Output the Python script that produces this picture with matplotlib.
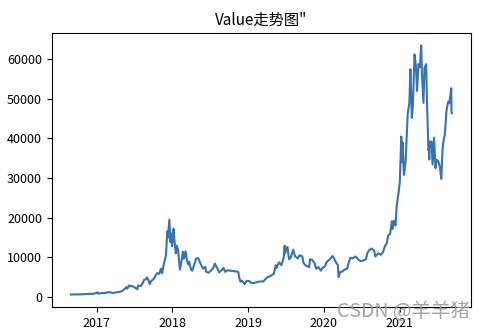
import matplotlib
matplotlib.use("Agg")
import matplotlib.pyplot as plt
import matplotlib.dates as mdates
import pandas as pd

plt.rcParams['font.family'] = ['Noto Sans CJK SC', 'DejaVu Sans']
plt.rcParams['axes.unicode_minus'] = False

dates = [
 "2016-08-29","2016-09-12","2016-09-26","2016-10-10","2016-10-24","2016-11-07","2016-11-21","2016-12-05",
 "2016-12-19","2016-12-30","2017-01-04","2017-01-11","2017-01-18","2017-01-31","2017-02-14","2017-02-28",
 "2017-03-10","2017-03-18","2017-03-31","2017-04-15","2017-04-30","2017-05-10","2017-05-24","2017-05-28",
 "2017-06-06","2017-06-12","2017-06-20","2017-07-01","2017-07-16","2017-07-20","2017-08-01","2017-08-10",
 "2017-08-17","2017-08-24","2017-09-01","2017-09-14","2017-09-20","2017-10-01","2017-10-12","2017-10-20",
 "2017-10-28","2017-11-07","2017-11-12","2017-11-20","2017-11-28","2017-12-01","2017-12-07","2017-12-10",
 "2017-12-17","2017-12-22","2017-12-26","2017-12-30","2018-01-06","2018-01-10","2018-01-17","2018-01-21",
 "2018-01-28","2018-02-02","2018-02-06","2018-02-12","2018-02-20","2018-02-25","2018-03-05","2018-03-12",
 "2018-03-18","2018-03-22","2018-03-31","2018-04-06","2018-04-15","2018-04-24","2018-05-05","2018-05-15",
 "2018-05-28","2018-06-08","2018-06-13","2018-06-24","2018-07-05","2018-07-18","2018-07-24","2018-08-03",
 "2018-08-14","2018-08-26","2018-09-04","2018-09-12","2018-09-22","2018-10-05","2018-10-20","2018-11-05",
 "2018-11-14","2018-11-20","2018-11-25","2018-12-02","2018-12-15","2018-12-24","2019-01-06","2019-01-12",
 "2019-01-28","2019-02-08","2019-02-24","2019-03-15","2019-04-02","2019-04-20","2019-05-05","2019-05-14",
 "2019-05-17","2019-05-30","2019-06-10","2019-06-21","2019-06-26","2019-06-28","2019-07-03","2019-07-09",
 "2019-07-17","2019-07-24","2019-08-06","2019-08-14","2019-08-28","2019-09-06","2019-09-19","2019-09-25",
 "2019-10-06","2019-10-22","2019-10-26","2019-11-06","2019-11-17","2019-11-25","2019-12-06","2019-12-17",
 "2019-12-25","2020-01-06","2020-01-14","2020-01-28","2020-02-12","2020-02-20","2020-03-01","2020-03-08",
 "2020-03-12","2020-03-19","2020-03-30","2020-04-10","2020-04-22","2020-04-30","2020-05-08","2020-05-18",
 "2020-06-01","2020-06-15","2020-06-27","2020-07-10","2020-07-22","2020-07-28","2020-08-05","2020-08-17",
 "2020-08-30","2020-09-05","2020-09-19","2020-10-01","2020-10-13","2020-10-21","2020-10-30","2020-11-06",
 "2020-11-15","2020-11-24","2020-11-26","2020-12-04","2020-12-11","2020-12-17","2020-12-26","2021-01-01",
 "2021-01-08","2021-01-11","2021-01-14","2021-01-21","2021-01-24","2021-01-29","2021-02-08","2021-02-16",
 "2021-02-21","2021-02-28","2021-03-05","2021-03-13","2021-03-20","2021-03-25","2021-04-01","2021-04-08",
 "2021-04-14","2021-04-18","2021-04-25","2021-04-30","2021-05-08","2021-05-12","2021-05-19","2021-05-21",
 "2021-05-23","2021-05-26","2021-06-03","2021-06-08","2021-06-15","2021-06-22","2021-06-28","2021-07-06",
 "2021-07-13","2021-07-20","2021-07-26","2021-08-01","2021-08-06","2021-08-14","2021-08-22","2021-08-28",
 "2021-09-06","2021-09-07","2021-09-09",
]
values = [
 575,608,605,617,655,710,738,765,
 795,960,1130,780,900,970,1010,1190,
 1110,970,1080,1180,1350,1750,2450,2050,
 2870,2650,2750,2430,1930,2870,2720,3400,
 4300,4350,4900,3230,4000,4400,5430,6000,
 5750,7100,5950,8200,9900,10900,16500,15000,
 19500,13800,16000,12800,17200,14500,11000,12900,
 11800,8900,6900,8500,11400,9600,11500,9100,
 8200,8900,6900,6600,8000,9600,9800,8500,
 7100,7600,6300,6100,6600,7400,8400,7400,
 6200,6700,7300,6300,6700,6600,6500,6400,
 6300,4600,3800,4100,3200,4000,4000,3600,
 3450,3650,3850,3900,4900,5300,5800,8000,
 7300,8700,8000,9900,12900,11000,12000,12600,
 9500,9800,11900,10300,9700,10500,10200,8500,
 7900,7500,9500,9300,8500,7100,7500,6600,
 7300,7700,8800,9400,10300,9600,8500,8100,
 5000,6200,6400,6900,7100,8700,9900,9700,
 10200,9400,9000,9200,9500,11000,11700,12200,
 11700,10200,11000,10600,11400,12800,13500,15500,
 15900,19100,17100,19200,18000,23000,26400,29000,
 40500,34000,39000,30800,32000,34300,46200,49000,
 57500,45200,48500,61200,58000,52000,58800,58000,
 63500,56000,49000,57800,58800,49200,37000,37400,
 34700,39200,39200,33400,40200,32500,34600,34200,
 32800,29800,37300,39900,40900,47000,49300,48900,
 52700,46800,46400,
]
title = 'Value走势图"'
watermark = 'CSDN @羊羊猪'

x = pd.to_datetime(dates)

fig = plt.figure(figsize=(4.84, 3.32), dpi=100)
ax = fig.add_axes([0.107, 0.0753, 0.866, 0.8253])
ax.plot(x, values, color='#3572b8', lw=1.5)
ax.set_title(title, fontsize=11)
ax.xaxis.set_major_locator(mdates.YearLocator())
ax.xaxis.set_major_formatter(mdates.DateFormatter('%Y'))
ax.set_yticks([0, 10000, 20000, 30000, 40000, 50000, 60000])
ax.tick_params(labelsize=9)
fig.text(0.97, 0.03, watermark, ha='right', va='bottom', fontsize=14,
         color='#9a9a9a', alpha=0.9)
fig.savefig('out.png', dpi=100)
